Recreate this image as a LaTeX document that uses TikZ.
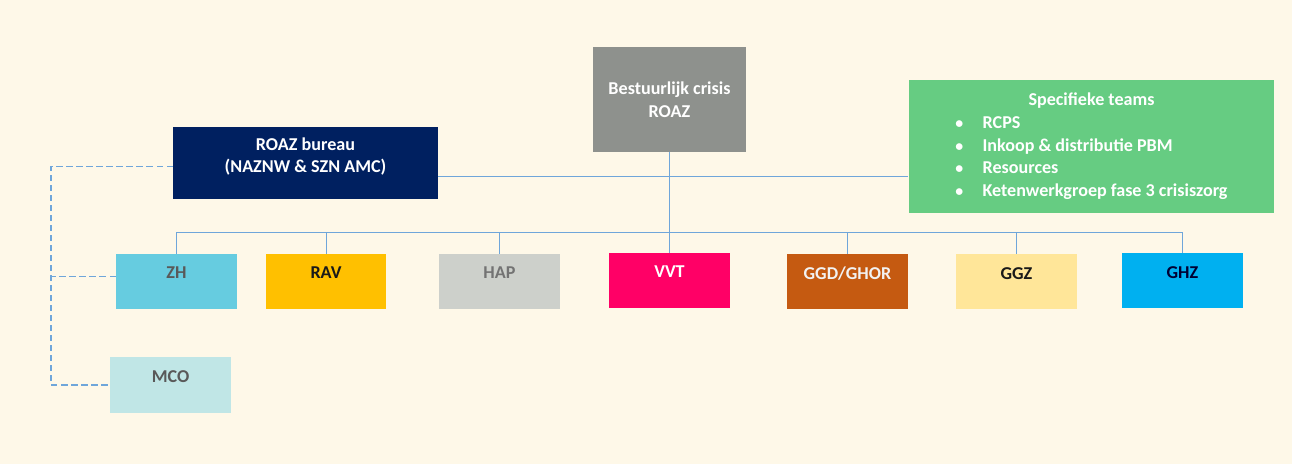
\documentclass[tikz,border=0pt]{standalone}
\usepackage{fontspec}
\setmainfont{Carlito}
\usetikzlibrary{positioning}

\definecolor{paper}{HTML}{FEF8E8}
\definecolor{crisisgray}{HTML}{8E918D}
\definecolor{bureaublue}{HTML}{002060}
\definecolor{teamgreen}{HTML}{66CC82}
\definecolor{linkblue}{HTML}{6FA6DA}
\definecolor{zhcol}{HTML}{66CCE0}
\definecolor{ravcol}{HTML}{FFC000}
\definecolor{hapcol}{HTML}{CDD0CB}
\definecolor{vvtcol}{HTML}{FF0066}
\definecolor{ggdcol}{HTML}{C55A11}
\definecolor{ggzcol}{HTML}{FFE699}
\definecolor{ghzcol}{HTML}{00B0F0}
\definecolor{mcocol}{HTML}{C0E6E6}

\newcommand{\sink}[1]{\rule[-#1]{0pt}{0pt}}

\tikzset{
	box/.style={rectangle, inner sep=0pt, align=center,
		font=\bfseries\fontsize{10.3}{12.9}\selectfont},
	unit/.style={box, minimum width=2.42cm, minimum height=1.1cm,
		execute at end node={\sink{9.6pt}}},
	link/.style={draw=linkblue, line width=0.5pt},
	dashlink/.style={draw=linkblue, line width=0.8pt,
		dash pattern=on 3.5pt off 2.2pt},
}

\begin{document}
\begin{tikzpicture}[x=0.02cm, y=-0.02cm]
	\useasboundingbox[fill=paper] (0,0) rectangle (1292,464);

	% top level
	\node[box, fill=crisisgray, text=white, minimum width=3.06cm,
		minimum height=2.1cm] (best) at (669.5,99.5)
		{Bestuurlijk crisis\\ROAZ};

	\node[box, fill=bureaublue, text=white, minimum width=5.3cm,
		minimum height=1.44cm, execute at end node={\sink{9pt}}]
		(roaz) at (305.5,163) {ROAZ bureau\\(NAZNW \& SZN AMC)};

	\node[box, fill=teamgreen, text=white, minimum width=7.32cm,
		minimum height=2.66cm, execute at end node={\sink{5pt}}]
		(teams) at (1091.5,146.5) {%
		\begin{tabular}{@{}c@{}}
			Specifieke teams\\
			\begin{tabular}[t]{@{}l@{\hspace{11pt}}l@{}}
				{\small\textbullet} & RCPS\\
				{\small\textbullet} & Inkoop \& distributie PBM\\
				{\small\textbullet} & Resources\\
				{\small\textbullet} & Ketenwerkgroep fase 3 crisiszorg
			\end{tabular}
		\end{tabular}};

	% partners
	\node[unit, fill=zhcol, text=black!65] (zh) at (176.5,281.5) {ZH};
	\node[unit, fill=ravcol, text=black!90] (rav) at (326,281.5) {RAV};
	\node[unit, fill=hapcol, text=black!55] (hap) at (499.5,281.5) {HAP};
	\node[unit, fill=vvtcol, text=white] (vvt) at (669.5,280.5) {VVT};
	\node[unit, fill=ggdcol, text=white!95!black] (ggd) at (847.5,281.5) {GGD/GHOR};
	\node[unit, fill=ggzcol, text=black!90] (ggz) at (1016.5,281.5) {GGZ};
	\node[unit, fill=ghzcol, text=black!80!blue] (ghz) at (1182.5,280.5) {GHZ};

	\node[unit, fill=mcocol, text=black!65, minimum height=1.12cm]
		(mco) at (170.5,385) {MCO};

	\coordinate (mid) at (669.5,176);
	\coordinate (bus) at (0,232);
	\coordinate (rail) at (51,0);

	\draw[link] (roaz.east |- mid) -- (teams.west |- mid);
	\draw[link] (best.south) -- (vvt.north);

	\draw[link] (zh.north |- bus) -- (ghz.north |- bus);
	\foreach \u in {zh, rav, hap, ggd, ggz, ghz}
		\draw[link] (\u.north |- bus) -- (\u.north);

	\draw[dashlink] ([yshift=-2pt]roaz.west) -| (rail |- mco.west) -- (mco.west);
	\draw[dashlink] ([yshift=3pt]zh.west) -- ([yshift=3pt]zh.west -| rail);
\end{tikzpicture}
\end{document}
